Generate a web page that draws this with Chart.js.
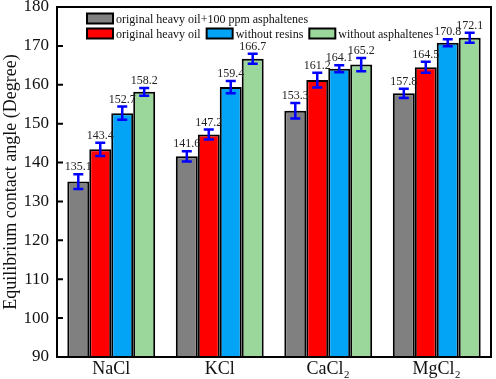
<!DOCTYPE html>
<html>
<head>
<meta charset="utf-8">
<script src="https://cdn.jsdelivr.net/npm/chart.js@4/dist/chart.umd.min.js"></script>
<style>
html,body{margin:0;padding:0;background:#fff;}
#wrap{width:496px;height:379px;position:relative;}
</style>
</head>
<body>
<div id="wrap"><canvas id="c" width="496" height="379"></canvas></div>
<script>
const categories = ['NaCl', 'KCl', 'CaCl\u2082', 'MgCl\u2082'];
const seriesNames = ['original heavy oil+100 ppm asphaltenes', 'original heavy oil', 'without resins', 'without asphaltenes'];
const asphalteneAdded = [135.1, 141.6, 153.3, 157.8];
const originalOil = [143.4, 147.2, 161.2, 164.5];
const withoutResins = [152.7, 159.4, 164.1, 170.8];
const withoutAsphaltenes = [158.2, 166.7, 165.2, 172.1];
const errAsphalteneAdded = [1.9, 1.3, 2.0, 1.2];
const errOriginalOil = [1.7, 1.3, 1.9, 1.4];
const errWithoutResins = [1.7, 1.6, 0.9, 0.9];
const errWithoutAsphaltenes = [1.0, 1.3, 1.7, 1.3];
const yTicks = [90, 100, 110, 120, 130, 140, 150, 160, 170, 180];

const colors = ['#808080', '#ff0000', '#03a4f6', '#9bd69b'];
const values = [asphalteneAdded, originalOil, withoutResins, withoutAsphaltenes];
const errors = [errAsphalteneAdded, errOriginalOil, errWithoutResins, errWithoutAsphaltenes];
const serif = "'Liberation Serif', 'Times New Roman', serif";

const datasets = values.map((v, i) => ({
  label: seriesNames[i],
  data: v,
  errors: errors[i],
  backgroundColor: colors[i],
  borderColor: '#000',
  borderWidth: 2,
  borderSkipped: 'bottom',
  barPercentage: 1.0,
  categoryPercentage: 0.81
}));

const extras = {
  id: 'extras',
  afterDatasetsDraw(chart) {
    const ctx = chart.ctx;
    const ys = chart.scales.y;
    ctx.save();
    chart.data.datasets.forEach((ds, di) => {
      const meta = chart.getDatasetMeta(di);
      meta.data.forEach((bar, i) => {
        const v = ds.data[i], e = ds.errors[i];
        const x = bar.x;
        const yt = ys.getPixelForValue(v + e);
        const yb = ys.getPixelForValue(v - e);
        ctx.strokeStyle = '#0000ff';
        ctx.lineWidth = 2.5;
        ctx.beginPath();
        ctx.moveTo(x, yt); ctx.lineTo(x, yb);
        ctx.moveTo(x - 5, yt); ctx.lineTo(x + 5, yt);
        ctx.moveTo(x - 5, yb); ctx.lineTo(x + 5, yb);
        ctx.stroke();
        ctx.fillStyle = '#222';
        ctx.font = "12px " + serif;
        ctx.textAlign = 'center';
        ctx.textBaseline = 'bottom';
        ctx.fillText(v.toFixed(1), x, yt - 1);
      });
    });
    ctx.restore();
  },
  afterDraw(chart) {
    const ctx = chart.ctx;
    const a = chart.chartArea;
    const ys = chart.scales.y;
    ctx.save();
    ctx.strokeStyle = '#000';
    ctx.lineWidth = 2;
    ctx.strokeRect(a.left, a.top, a.right - a.left, a.bottom - a.top);
    // inward tick marks
    ctx.beginPath();
    yTicks.forEach(v => {
      const y = ys.getPixelForValue(v);
      ctx.moveTo(a.left, y); ctx.lineTo(a.left + 6, y);
    });
    ctx.stroke();
    // legend
    ctx.font = "12px " + serif;
    ctx.textBaseline = 'middle';
    ctx.textAlign = 'left';
    const ds = chart.data.datasets;
    const x0 = a.left + 30;
    const rows = [[0], [1, 2, 3]];
    const bw = 26, bh = 10;
    rows.forEach((row, r) => {
      let x = x0;
      const y = a.top + 11.5 + r * 15;
      row.forEach(di => {
        ctx.fillStyle = ds[di].backgroundColor;
        ctx.fillRect(x, y - bh / 2, bw, bh);
        ctx.strokeStyle = '#000';
        ctx.lineWidth = 2;
        ctx.strokeRect(x, y - bh / 2, bw, bh);
        ctx.fillStyle = '#111';
        ctx.fillText(ds[di].label, x + bw + 3, y + 1);
        x += bw + 3 + ctx.measureText(ds[di].label).width + 6;
      });
    });
    ctx.restore();
  }
};

new Chart(document.getElementById('c'), {
  type: 'bar',
  data: { labels: categories, datasets },
  options: {
    responsive: false,
    animation: false,
    devicePixelRatio: 1,
    layout: { padding: { left: 0, right: 5, top: 7, bottom: 0 } },
    plugins: { legend: { display: false }, tooltip: { enabled: false } },
    scales: {
      x: {
        offset: true,
        grid: { display: false, drawTicks: false },
        border: { display: true, color: '#000', width: 2 },
        ticks: { color: '#111', font: { family: serif, size: 18 }, padding: 1 },
        afterFit(s) { s.height = 22; s.paddingLeft = 0; s.paddingRight = 0; }
      },
      y: {
        min: 90, max: 180,
        afterBuildTicks(s) { s.ticks = yTicks.map(v => ({ value: v })); },
        grid: { display: true, drawOnChartArea: false, drawTicks: false, color: '#000', lineWidth: 2 },
        border: { display: true, color: '#000', width: 2 },
        ticks: { color: '#111', font: { family: serif, size: 17 }, padding: 8 },
        title: { display: true, text: 'Equilibrium contact angle (Degree)', color: '#111', font: { family: serif, size: 18 }, padding: 0 },
        afterFit(s) { s.width = 57; s.paddingTop = 0; s.paddingBottom = 0; }
      }
    }
  },
  plugins: [extras]
});
</script>
</body>
</html>
